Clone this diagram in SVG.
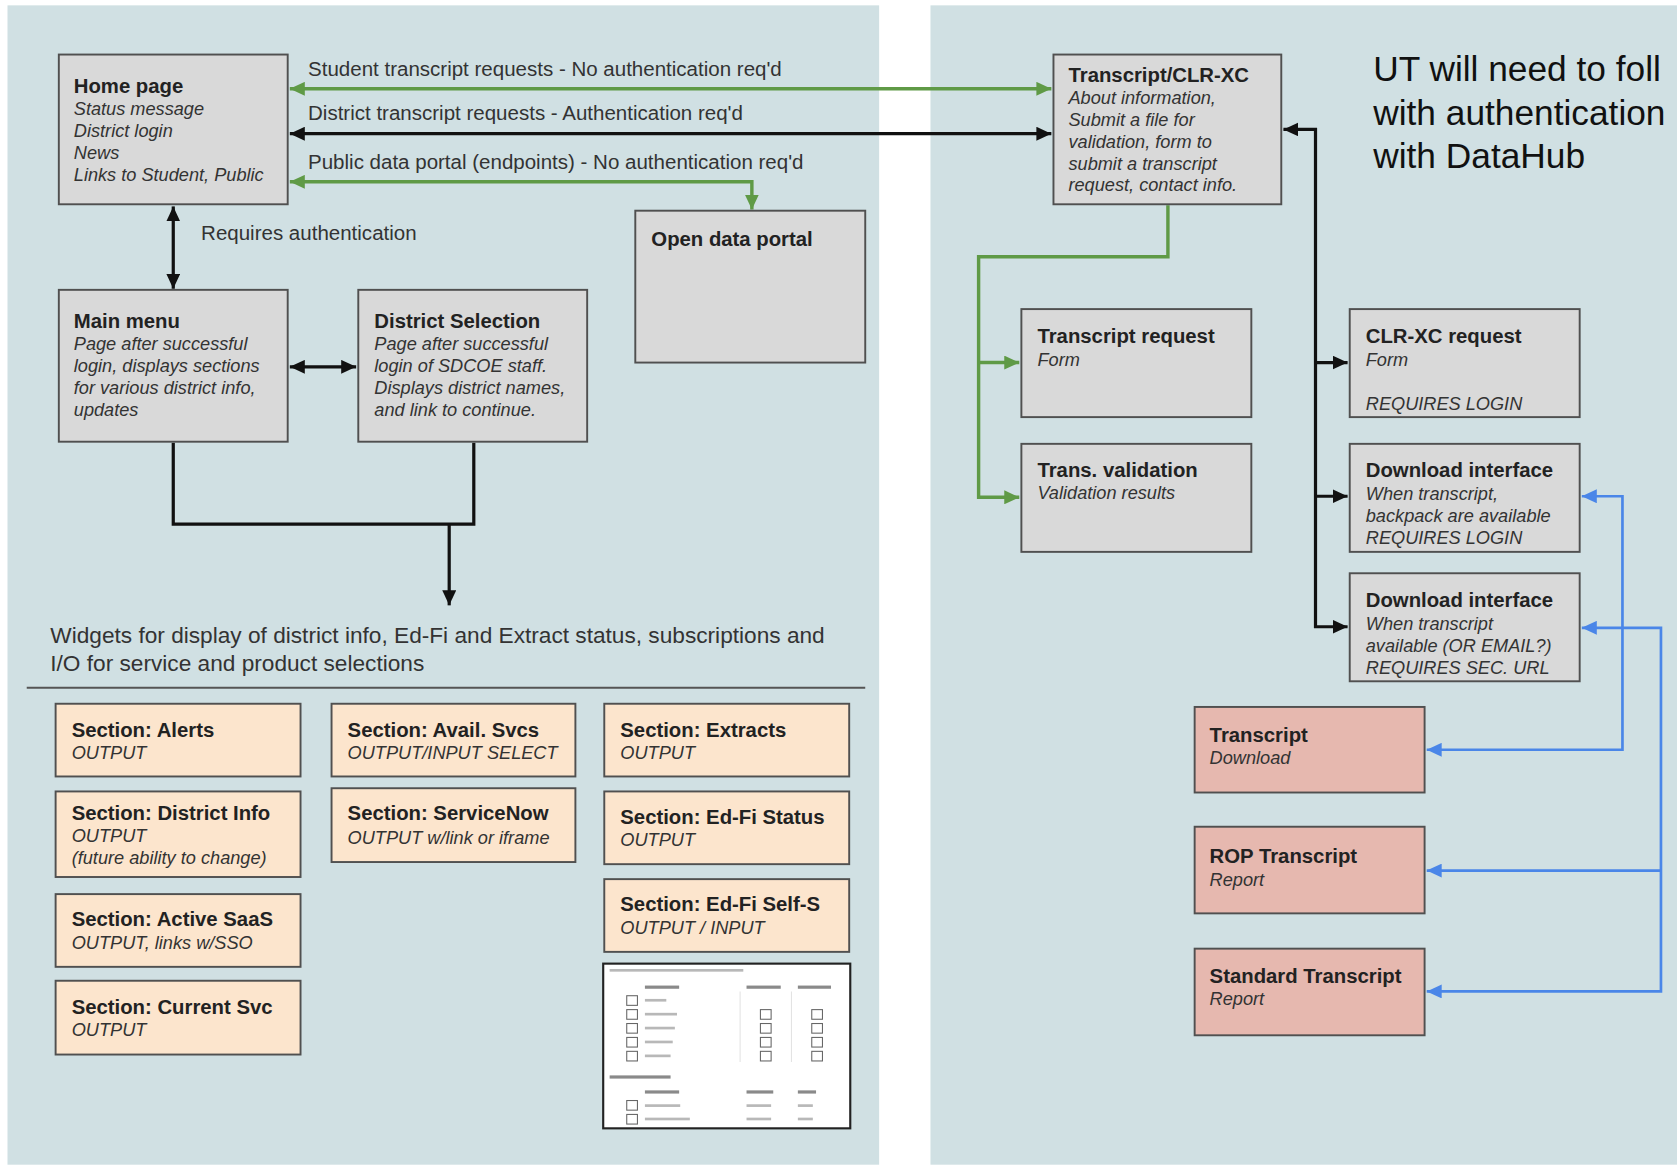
<svg xmlns="http://www.w3.org/2000/svg" width="1677" height="1168" viewBox="0 0 1677 1168">
<style>
.panel{fill:#d0e0e3}
.box{fill:#d9d9d9;stroke:#505050;stroke-width:1.8}
.peach{fill:#fce5cd;stroke:#505050;stroke-width:1.8}
.pink{fill:#e6b8af;stroke:#505050;stroke-width:1.8}
text{font-family:"Liberation Sans",Arial,sans-serif;fill:#222}
.t{font-size:19px;font-weight:bold}
.b{font-size:17px;font-style:italic;fill:#333}
.lbl{font-size:19.2px;fill:#333}
.wid{font-size:21.2px;fill:#333}
.ut{font-size:33px;fill:#111}
.g{fill:none;stroke:#5f9a46;stroke-width:3.2}
.k{fill:none;stroke:#111;stroke-width:3}
.bl{fill:none;stroke:#4a86e8;stroke-width:2.5}
.bar{fill:#b8b8b8}
.barD{fill:#8a8a8a}
.cb{fill:#fff;stroke:#666;stroke-width:1}
</style>
<defs>
<marker id="ag" markerUnits="userSpaceOnUse" markerWidth="15" markerHeight="13" refX="14" refY="6.5" orient="auto-start-reverse"><path d="M0,0 L14,6.5 L0,13 z" fill="#5f9a46"/></marker>
<marker id="ak" markerUnits="userSpaceOnUse" markerWidth="15" markerHeight="13" refX="14" refY="6.5" orient="auto-start-reverse"><path d="M0,0 L14,6.5 L0,13 z" fill="#111"/></marker>
<marker id="ab" markerUnits="userSpaceOnUse" markerWidth="15" markerHeight="13" refX="14" refY="6.5" orient="auto-start-reverse"><path d="M0,0 L14,6.5 L0,13 z" fill="#4a86e8"/></marker>
</defs>
<rect width="1677" height="1168" fill="#ffffff"/>
<g transform="scale(1.069515)">
<g id="panels">
<rect class="panel" x="7" y="5" width="815" height="1084"/>
<rect class="panel" x="870" y="5" width="700" height="1084"/>
</g>

<g id="connectors">
<line class="g" x1="271" y1="83" x2="983" y2="83" marker-start="url(#ag)" marker-end="url(#ag)"/>
<line class="k" x1="271" y1="125" x2="983" y2="125" marker-start="url(#ak)" marker-end="url(#ak)"/>
<path class="g" d="M271,170 H703 V196" marker-start="url(#ag)" marker-end="url(#ag)"/>
<path class="k" d="M162,193 V270" marker-start="url(#ak)" marker-end="url(#ak)"/>
<path class="k" d="M271,343 H333" marker-start="url(#ak)" marker-end="url(#ak)"/>
<path class="k" d="M162,414 V490 H443 V414"/>
<path class="k" d="M420,490 V566" marker-end="url(#ak)"/>
<path class="g" d="M1092,192 V240 H915 V465 H953" marker-end="url(#ag)"/>
<path class="g" d="M915,339 H953" marker-end="url(#ag)"/>
<path class="k" d="M1200,121 H1230 V586 H1260" marker-start="url(#ak)" marker-end="url(#ak)"/>
<path class="k" d="M1230,339 H1260" marker-end="url(#ak)"/>
<path class="k" d="M1230,464 H1260" marker-end="url(#ak)"/>
<path class="bl" d="M1479,464 H1517 V701 H1334" marker-start="url(#ab)" marker-end="url(#ab)"/>
<path class="bl" d="M1479,587 H1553 V927 H1334" marker-start="url(#ab)" marker-end="url(#ab)"/>
<path class="bl" d="M1553,814 H1334" marker-end="url(#ab)"/>
<line x1="25" y1="643" x2="809" y2="643" stroke="#555" stroke-width="2"/>
<text class="lbl" x="288" y="71">Student transcript requests - No authentication req'd</text>
<text class="lbl" x="288" y="112">District transcript requests - Authentication req'd</text>
<text class="lbl" x="288" y="158">Public data portal (endpoints) - No authentication req'd</text>
<text class="lbl" x="188" y="224">Requires authentication</text>
</g>

<g id="home-page">
<rect class="box" x="55" y="51" width="214" height="140"/>
<text class="t" x="69" y="87">Home page</text>
<text class="b" x="69" y="107.5">Status message</text>
<text class="b" x="69" y="128">District login</text>
<text class="b" x="69" y="148.5">News</text>
<text class="b" x="69" y="169">Links to Student, Public</text>
</g>
<g id="main-menu">
<rect class="box" x="55" y="271" width="214" height="142"/>
<text class="t" x="69" y="307">Main menu</text>
<text class="b" x="69" y="327">Page after successful</text>
<text class="b" x="69" y="347.5">login, displays sections</text>
<text class="b" x="69" y="368">for various district info,</text>
<text class="b" x="69" y="388.5">updates</text>
</g>
<g id="district-selection">
<rect class="box" x="335" y="271" width="214" height="142"/>
<text class="t" x="350" y="307">District Selection</text>
<text class="b" x="350" y="327">Page after successful</text>
<text class="b" x="350" y="347.5">login of SDCOE staff.</text>
<text class="b" x="350" y="368">Displays district names,</text>
<text class="b" x="350" y="388.5">and link to continue.</text>
</g>
<g id="open-data-portal">
<rect class="box" x="594" y="197" width="215" height="142"/>
<text class="t" x="609" y="230">Open data portal</text>
</g>

<g id="widgets-text">
<text class="wid" x="47" y="601">Widgets for display of district info, Ed-Fi and Extract status, subscriptions and</text>
<text class="wid" x="47" y="627">I/O for service and product selections</text>
</g>

<g id="section-alerts">
<rect class="peach" x="52" y="658" width="229" height="68"/>
<text class="t" x="67" y="689">Section: Alerts</text>
<text class="b" x="67" y="709.5">OUTPUT</text>
</g>
<g id="section-district-info">
<rect class="peach" x="52" y="740" width="229" height="80"/>
<text class="t" x="67" y="767">Section: District Info</text>
<text class="b" x="67" y="787">OUTPUT</text>
<text class="b" x="67" y="808">(future ability to change)</text>
</g>
<g id="section-active-saas">
<rect class="peach" x="52" y="836" width="229" height="68"/>
<text class="t" x="67" y="866">Section: Active SaaS</text>
<text class="b" x="67" y="887">OUTPUT, links w/SSO</text>
</g>
<g id="section-current-svc">
<rect class="peach" x="52" y="917" width="229" height="69"/>
<text class="t" x="67" y="948">Section: Current Svc</text>
<text class="b" x="67" y="969">OUTPUT</text>
</g>
<g id="section-avail-svcs">
<rect class="peach" x="310" y="658" width="228" height="68"/>
<text class="t" x="325" y="689">Section: Avail. Svcs</text>
<text class="b" x="325" y="709.5">OUTPUT/INPUT SELECT</text>
</g>
<g id="section-servicenow">
<rect class="peach" x="310" y="737" width="228" height="69"/>
<text class="t" x="325" y="767">Section: ServiceNow</text>
<text class="b" x="325" y="789">OUTPUT w/link or iframe</text>
</g>
<g id="section-extracts">
<rect class="peach" x="565" y="658" width="229" height="68"/>
<text class="t" x="580" y="689">Section: Extracts</text>
<text class="b" x="580" y="709.5">OUTPUT</text>
</g>
<g id="section-edfi-status">
<rect class="peach" x="565" y="740" width="229" height="68"/>
<text class="t" x="580" y="770">Section: Ed-Fi Status</text>
<text class="b" x="580" y="791">OUTPUT</text>
</g>
<g id="section-edfi-self-s">
<rect class="peach" x="565" y="822" width="229" height="68"/>
<text class="t" x="580" y="852">Section: Ed-Fi Self-S</text>
<text class="b" x="580" y="873">OUTPUT / INPUT</text>
</g>

<g id="table-thumbnail">
<rect x="564" y="901" width="231" height="154" fill="#ffffff" stroke="#222" stroke-width="2"/>
<rect class="bar" x="570" y="906" width="125" height="2.5"/>
<rect class="barD" x="603" y="921.5" width="32" height="3"/>
<rect class="barD" x="698" y="921.5" width="32" height="3"/>
<rect class="barD" x="746" y="921.5" width="31" height="3"/>
<line x1="692" y1="927" x2="692" y2="993" stroke="#e3e3e3" stroke-width="1"/>
<line x1="740" y1="927" x2="740" y2="993" stroke="#e3e3e3" stroke-width="1"/>
<rect class="cb" x="586" y="931" width="10" height="9"/>
<rect class="bar" x="603" y="934" width="20" height="2.5"/>
<rect class="cb" x="586" y="944" width="10" height="9"/>
<rect class="bar" x="603" y="947" width="30" height="2.5"/>
<rect class="cb" x="711" y="944" width="10" height="9"/>
<rect class="cb" x="759" y="944" width="10" height="9"/>
<rect class="cb" x="586" y="957" width="10" height="9"/>
<rect class="bar" x="603" y="960" width="28" height="2.5"/>
<rect class="cb" x="711" y="957" width="10" height="9"/>
<rect class="cb" x="759" y="957" width="10" height="9"/>
<rect class="cb" x="586" y="970" width="10" height="9"/>
<rect class="bar" x="603" y="973" width="26" height="2.5"/>
<rect class="cb" x="711" y="970" width="10" height="9"/>
<rect class="cb" x="759" y="970" width="10" height="9"/>
<rect class="cb" x="586" y="983" width="10" height="9"/>
<rect class="bar" x="603" y="986" width="24" height="2.5"/>
<rect class="cb" x="711" y="983" width="10" height="9"/>
<rect class="cb" x="759" y="983" width="10" height="9"/>
<rect class="barD" x="570" y="1005.5" width="57" height="3"/>
<rect class="barD" x="603" y="1019.5" width="32" height="3"/>
<rect class="barD" x="698" y="1019.5" width="25" height="3"/>
<rect class="barD" x="746" y="1019.5" width="17" height="3"/>
<rect class="cb" x="586" y="1029" width="10" height="9"/>
<rect class="bar" x="603" y="1032.5" width="33" height="2.5"/>
<rect class="bar" x="698" y="1032.5" width="23" height="2.5"/>
<rect class="bar" x="746" y="1032.5" width="14" height="2.5"/>
<rect class="cb" x="586" y="1042" width="10" height="9"/>
<rect class="bar" x="603" y="1045" width="42" height="2.5"/>
<rect class="bar" x="698" y="1045" width="23" height="2.5"/>
<rect class="bar" x="746" y="1045" width="14" height="2.5"/>
</g>

<g id="transcript-clr-xc">
<rect class="box" x="985" y="51" width="213" height="140"/>
<text class="t" x="999" y="76.5">Transcript/CLR-XC</text>
<text class="b" x="999" y="97">About information,</text>
<text class="b" x="999" y="117.5">Submit a file for</text>
<text class="b" x="999" y="138">validation, form to</text>
<text class="b" x="999" y="158.5">submit a transcript</text>
<text class="b" x="999" y="179">request, contact info.</text>
</g>
<g id="ut-note">
<text class="ut" x="1284" y="76">UT will need to foll</text>
<text class="ut" x="1284" y="116.5">with authentication</text>
<text class="ut" x="1284" y="157">with DataHub</text>
</g>
<g id="transcript-request">
<rect class="box" x="955" y="289" width="215" height="101"/>
<text class="t" x="970" y="321">Transcript request</text>
<text class="b" x="970" y="342">Form</text>
</g>
<g id="trans-validation">
<rect class="box" x="955" y="415" width="215" height="101"/>
<text class="t" x="970" y="446">Trans. validation</text>
<text class="b" x="970" y="467">Validation results</text>
</g>
<g id="clr-xc-request">
<rect class="box" x="1262" y="289" width="215" height="101"/>
<text class="t" x="1277" y="321">CLR-XC request</text>
<text class="b" x="1277" y="342">Form</text>
<text class="b" x="1277" y="383">REQUIRES LOGIN</text>
</g>
<g id="download-interface-1">
<rect class="box" x="1262" y="415" width="215" height="101"/>
<text class="t" x="1277" y="446">Download interface</text>
<text class="b" x="1277" y="467.5">When transcript,</text>
<text class="b" x="1277" y="488">backpack are available</text>
<text class="b" x="1277" y="508.5">REQUIRES LOGIN</text>
</g>
<g id="download-interface-2">
<rect class="box" x="1262" y="536" width="215" height="101"/>
<text class="t" x="1277" y="567.5">Download interface</text>
<text class="b" x="1277" y="589">When transcript</text>
<text class="b" x="1277" y="609.5">available (OR EMAIL?)</text>
<text class="b" x="1277" y="630">REQUIRES SEC. URL</text>
</g>
<g id="transcript-download">
<rect class="pink" x="1117" y="661" width="215" height="80"/>
<text class="t" x="1131" y="694">Transcript</text>
<text class="b" x="1131" y="714">Download</text>
</g>
<g id="rop-transcript">
<rect class="pink" x="1117" y="773" width="215" height="81"/>
<text class="t" x="1131" y="807">ROP Transcript</text>
<text class="b" x="1131" y="828">Report</text>
</g>
<g id="standard-transcript">
<rect class="pink" x="1117" y="887" width="215" height="81"/>
<text class="t" x="1131" y="919">Standard Transcript</text>
<text class="b" x="1131" y="940">Report</text>
</g>
</g>
</svg>
